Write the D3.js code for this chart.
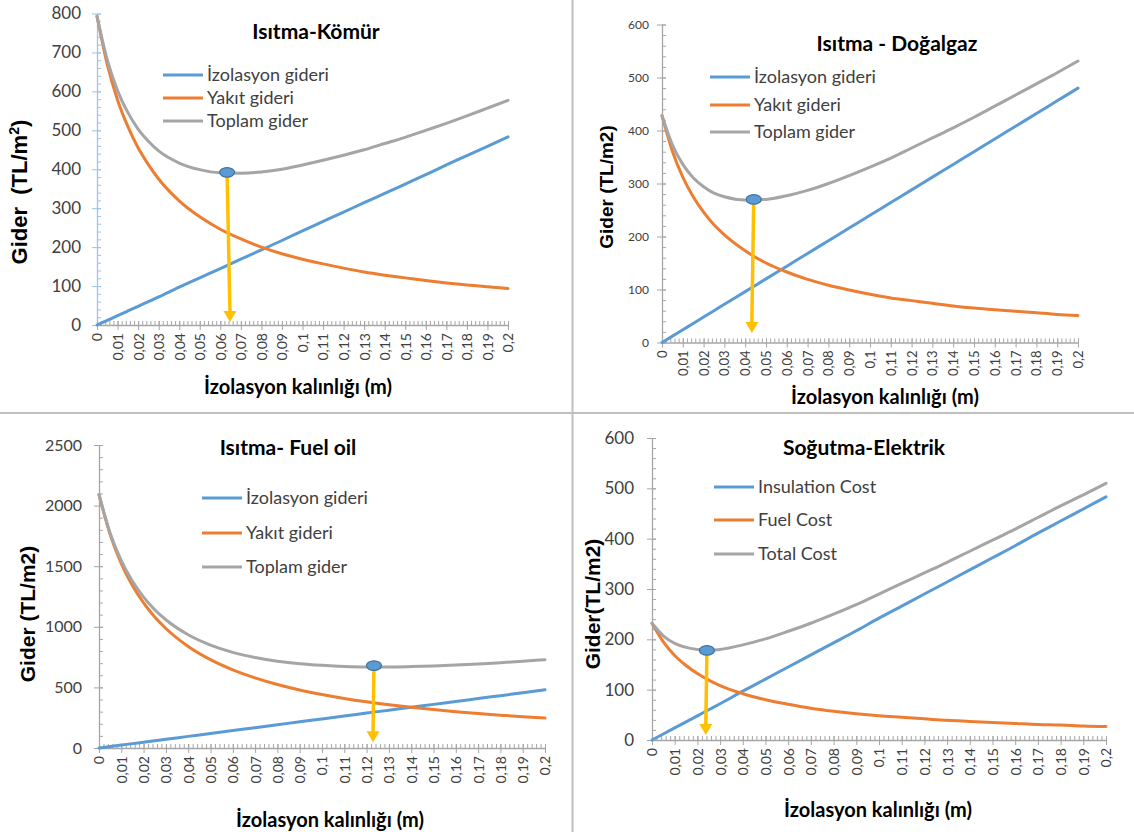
<!DOCTYPE html>
<html>
<head>
<meta charset="utf-8">
<script src="https://cdn.jsdelivr.net/npm/d3@7"></script>
<style>
  html, body { margin: 0; padding: 0; background: #ffffff; }
  svg { display: block; }
</style>
</head>
<body>
<svg id="chart" width="1134" height="832"></svg>
<script>
// ---------------- DATA ----------------
const thickness = [0, 0.005, 0.01, 0.015, 0.02, 0.025, 0.03, 0.04, 0.05, 0.06, 0.07, 0.08, 0.09, 0.1,
  0.11, 0.12, 0.13, 0.14, 0.15, 0.16, 0.17, 0.18, 0.19, 0.2];
const xTickValues = [0, 0.01, 0.02, 0.03, 0.04, 0.05, 0.06, 0.07, 0.08, 0.09, 0.1,
  0.11, 0.12, 0.13, 0.14, 0.15, 0.16, 0.17, 0.18, 0.19, 0.2];
const xTickLabels = ["0", "0,01", "0,02", "0,03", "0,04", "0,05", "0,06", "0,07", "0,08", "0,09", "0,1",
  "0,11", "0,12", "0,13", "0,14", "0,15", "0,16", "0,17", "0,18", "0,19", "0,2"];

// Isıtma-Kömür
const komurInsulation = [0, 12, 24, 36, 48, 60, 72, 97, 121, 145, 169, 193, 217, 242, 266, 290, 314, 338, 362, 386, 411, 435, 459, 483];
const komurFuel = [793, 669, 578, 510, 455, 412, 375, 319, 278, 246, 221, 200, 183, 169, 157, 146, 136, 128, 121, 114, 108, 103, 98, 94];
const komurTotal = [793, 681, 602, 546, 503, 472, 447, 416, 399, 391, 390, 393, 400, 411, 423, 436, 450, 466, 482, 500, 518, 537, 557, 577];
const komurOptimum = [0.0633, 392];
const komurArrowTip = [0.0647, 8];

// Isıtma - Doğalgaz
const dogalgazInsulation = [0, 12, 24, 36, 48, 60, 72, 96, 120, 144, 168, 192, 216, 240, 264, 288, 312, 336, 360, 384, 408, 432, 456, 480];
const dogalgazFuel = [428, 361, 312, 275, 246, 222, 203, 173, 150, 133, 119, 108, 99, 91, 84, 79, 74, 69, 65, 62, 59, 56, 53, 51];
const dogalgazTotal = [428, 373, 336, 311, 294, 282, 275, 269, 270, 277, 287, 300, 315, 331, 348, 367, 386, 405, 425, 446, 467, 488, 509, 531];
const dogalgazOptimum = [0.0441, 270];
const dogalgazArrowTip = [0.0432, 18];

// Isıtma- Fuel oil
const fuelOilInsulation = [0, 12, 24, 36, 48, 60, 72, 96, 120, 144, 168, 192, 216, 240, 264, 288, 312, 336, 360, 384, 408, 432, 456, 480];
const fuelOilFuel = [2090, 1761, 1522, 1340, 1197, 1081, 986, 838, 729, 645, 579, 524, 479, 442, 409, 381, 357, 336, 317, 300, 285, 271, 258, 247];
const fuelOilTotal = [2090, 1773, 1546, 1376, 1245, 1141, 1058, 934, 849, 789, 747, 716, 695, 682, 673, 669, 669, 672, 677, 684, 693, 704, 716, 729];
const fuelOilOptimum = [0.1233, 680];
const fuelOilArrowTip = [0.1229, 48];

// Soğutma-Elektrik
const elektrikInsulation = [0, 12, 24, 36, 48, 60, 72, 97, 121, 145, 169, 193, 217, 242, 266, 290, 314, 338, 362, 386, 411, 435, 459, 483];
const elektrikFuel = [232, 195, 168, 148, 132, 119, 108, 92, 80, 71, 63, 57, 52, 48, 45, 42, 39, 37, 35, 33, 31, 30, 28, 27];
const elektrikTotal = [232, 207, 192, 184, 180, 179, 180, 189, 201, 216, 232, 250, 269, 290, 311, 332, 353, 375, 397, 419, 442, 465, 487, 510];
const elektrikOptimum = [0.0242, 178];
const elektrikArrowTip = [0.0237, 10];

const turkishLegend = ["İzolasyon gideri", "Yakıt gideri", "Toplam gider"];
const englishLegend = ["Insulation Cost", "Fuel Cost", "Total Cost"];
const seriesColors = ["#5b9bd5", "#ed7d31", "#a5a5a5"];

// ---------------- PANELS (layout) ----------------
const panels = [
  {
    title: "Isıtma-Kömür", titleX: 316, titleY: 32, titleSize: 21,
    series: [komurInsulation, komurFuel, komurTotal], legend: turkishLegend,
    optimum: komurOptimum, arrowTip: komurArrowTip,
    x0: 97, x1: 508, yTop: 13.5, yBottom: 325, yMax: 800, yStep: 100, yMinor: 20,
    yTickSize: 17, yLabelGap: 16, yAxisColor: "#9dc3e6",
    legendX: 163, legendY: [75, 98, 121], legendSize: 18,
    yTitle: "Gider  (TL/m", yTitleSup: "2", yTitleEnd: ")", yTitleX: 19, yTitleY: 192, yTitleSize: 22,
    xTitleX: 298, xTitleY: 387, xTickFont: 14
  },
  {
    title: "Isıtma - Doğalgaz", titleX: 897, titleY: 44, titleSize: 21,
    series: [dogalgazInsulation, dogalgazFuel, dogalgazTotal], legend: turkishLegend,
    optimum: dogalgazOptimum, arrowTip: dogalgazArrowTip,
    x0: 662, x1: 1078, yTop: 24.5, yBottom: 342.5, yMax: 600, yStep: 100, yMinor: 20,
    yTickSize: 12, yLabelGap: 13, yAxisColor: "#a6a6a6",
    legendX: 710, legendY: [77, 105, 132], legendSize: 18,
    yTitle: "Gider (TL/m2)", yTitleX: 606, yTitleY: 187, yTitleSize: 19,
    xTitleX: 885, xTitleY: 397, xTickFont: 13
  },
  {
    title: "Isıtma- Fuel oil", titleX: 288, titleY: 448, titleSize: 21,
    series: [fuelOilInsulation, fuelOilFuel, fuelOilTotal], legend: turkishLegend,
    optimum: fuelOilOptimum, arrowTip: fuelOilArrowTip,
    x0: 99, x1: 545, yTop: 445, yBottom: 748, yMax: 2500, yStep: 500, yMinor: 100,
    yTickSize: 16, yLabelGap: 17, yAxisColor: "#a6a6a6",
    legendX: 202, legendY: [498, 533, 567], legendSize: 18,
    yTitle: "Gider (TL/m2)", yTitleX: 28, yTitleY: 614, yTitleSize: 21,
    xTitleX: 330, xTitleY: 820, xTickFont: 14
  },
  {
    title: "Soğutma-Elektrik", titleX: 864, titleY: 448, titleSize: 21,
    series: [elektrikInsulation, elektrikFuel, elektrikTotal], legend: englishLegend,
    optimum: elektrikOptimum, arrowTip: elektrikArrowTip,
    x0: 652, x1: 1106, yTop: 438, yBottom: 740, yMax: 600, yStep: 100, yMinor: 20,
    yTickSize: 17, yLabelGap: 18, yAxisColor: "#a6a6a6",
    legendX: 714, legendY: [487, 520, 554], legendSize: 18,
    yTitle: "Gider(TL/m2)", yTitleX: 593, yTitleY: 604, yTitleSize: 21,
    xTitleX: 878, xTitleY: 810, xTickFont: 14
  }
];

const svg = d3.select("#chart");
svg.append("rect").attr("width", 1134).attr("height", 832).attr("fill", "#ffffff");

// panel dividers
svg.append("line").attr("x1", 572.5).attr("x2", 572.5).attr("y1", 0).attr("y2", 832)
  .attr("stroke", "#bfbfbf").attr("stroke-width", 2);
svg.append("line").attr("x1", 0).attr("x2", 1134).attr("y1", 413).attr("y2", 413)
  .attr("stroke", "#bfbfbf").attr("stroke-width", 2);

const labelFont = "Lato, 'Open Sans', sans-serif";
const titleFont = "Lato, 'Open Sans', sans-serif";
const yTitleFont = "'Liberation Sans', Arial, sans-serif";

panels.forEach(p => {
  const g = svg.append("g");
  const x = d3.scaleLinear().domain([0, 0.2]).range([p.x0, p.x1]);
  const y = d3.scaleLinear().domain([0, p.yMax]).range([p.yBottom, p.yTop]);

  // Y axis: minor ticks inside
  const yMinorTicks = d3.range(0, p.yMax + 0.001, p.yMinor);
  const yAxisMinor = d3.axisRight(y).tickValues(yMinorTicks).tickSize(4).tickFormat("");
  const gyMinor = g.append("g").attr("transform", `translate(${p.x0},0)`).call(yAxisMinor);
  gyMinor.select(".domain").remove();
  gyMinor.selectAll("line").attr("stroke", p.yAxisColor);

  const yMajor = d3.range(0, p.yMax + 0.001, p.yStep);
  const yAxis = d3.axisLeft(y).tickValues(yMajor).tickSize(5).tickSizeOuter(0)
    .tickPadding(p.yLabelGap - 5).tickFormat(d3.format("d"));
  const gy = g.append("g").attr("transform", `translate(${p.x0},0)`).call(yAxis);
  gy.select(".domain").attr("stroke", p.yAxisColor).attr("stroke-width", 1.3);
  gy.selectAll(".tick line").attr("stroke", p.yAxisColor).attr("x2", -5).attr("x1", 4);
  gy.selectAll(".tick text").attr("font-family", labelFont).attr("font-size", p.yTickSize)
    .attr("fill", "#404040");

  // X axis minor ticks
  const xMinorTicks = d3.range(0, 0.2001, 0.002);
  const xAxisMinor = d3.axisTop(x).tickValues(xMinorTicks).tickSize(4).tickFormat("");
  const gxMinor = g.append("g").attr("transform", `translate(0,${p.yBottom})`).call(xAxisMinor);
  gxMinor.select(".domain").remove();
  gxMinor.selectAll("line").attr("stroke", "#a6a6a6");

  const xAxis = d3.axisBottom(x).tickValues(xTickValues).tickSize(5).tickSizeOuter(0)
    .tickFormat((d, i) => xTickLabels[i]);
  const gx = g.append("g").attr("transform", `translate(0,${p.yBottom})`).call(xAxis);
  gx.select(".domain").attr("stroke", "#a6a6a6").attr("stroke-width", 1.3);
  gx.selectAll(".tick line").attr("stroke", "#a6a6a6").attr("y1", -4);
  gx.selectAll(".tick text")
    .attr("font-family", labelFont).attr("font-size", p.xTickFont).attr("fill", "#404040")
    .attr("text-anchor", "end")
    .attr("transform", "rotate(-90)")
    .attr("x", -8).attr("y", 0).attr("dy", "0.35em");

  // Series lines
  const line = d3.line().x((d, i) => x(thickness[i])).y(d => y(d)).curve(d3.curveMonotoneX);
  p.series.forEach((vals, k) => {
    g.append("path").datum(vals).attr("d", line)
      .attr("fill", "none").attr("stroke", seriesColors[k]).attr("stroke-width", 3)
      .attr("stroke-linecap", "round").attr("stroke-linejoin", "round");
  });

  // Arrow from optimum point
  const ax0 = x(p.optimum[0]), ay0 = y(p.optimum[1]);
  const ax1 = x(p.arrowTip[0]), ay1 = y(p.arrowTip[1]);
  const headH = 11, headW = 6.5;
  g.append("line").attr("x1", ax0).attr("y1", ay0).attr("x2", ax1).attr("y2", ay1 - headH + 1)
    .attr("stroke", "#ffc000").attr("stroke-width", 3.5);
  g.append("path")
    .attr("d", `M${ax1 - headW},${ay1 - headH} L${ax1 + headW},${ay1 - headH} L${ax1},${ay1} Z`)
    .attr("fill", "#ffc000");
  g.append("ellipse").attr("cx", ax0).attr("cy", ay0).attr("rx", 7.5).attr("ry", 4.8)
    .attr("fill", "#5b9bd5").attr("stroke", "#41719c").attr("stroke-width", 1.2);

  // Title
  g.append("text").attr("x", p.titleX).attr("y", p.titleY).attr("dy", "0.35em")
    .attr("text-anchor", "middle").attr("font-family", titleFont).attr("font-weight", "bold")
    .attr("font-size", p.titleSize).attr("fill", "#000").text(p.title);

  // Legend
  p.legend.forEach((name, k) => {
    const ly = p.legendY[k];
    g.append("line").attr("x1", p.legendX).attr("x2", p.legendX + 40).attr("y1", ly).attr("y2", ly)
      .attr("stroke", seriesColors[k]).attr("stroke-width", 3);
    g.append("text").attr("x", p.legendX + 44).attr("y", ly).attr("dy", "0.35em")
      .attr("font-family", labelFont).attr("font-size", p.legendSize).attr("fill", "#404040").text(name);
  });

  // Y title
  const yt = g.append("text")
    .attr("transform", `translate(${p.yTitleX},${p.yTitleY}) rotate(-90)`)
    .attr("text-anchor", "middle").attr("dy", "0.35em")
    .attr("font-family", yTitleFont).attr("font-weight", "bold").attr("font-size", p.yTitleSize)
    .attr("fill", "#000").attr("xml:space", "preserve");
  yt.append("tspan").text(p.yTitle);
  if (p.yTitleSup) {
    yt.append("tspan").attr("baseline-shift", "super").attr("font-size", p.yTitleSize * 0.65).text(p.yTitleSup);
    yt.append("tspan").text(p.yTitleEnd);
  }

  // X title
  g.append("text").attr("x", p.xTitleX).attr("y", p.xTitleY).attr("dy", "0.35em")
    .attr("text-anchor", "middle").attr("font-family", titleFont).attr("font-weight", "bold")
    .attr("font-size", 20).attr("fill", "#000").text("İzolasyon kalınlığı (m)");
});
</script>
</body>
</html>
